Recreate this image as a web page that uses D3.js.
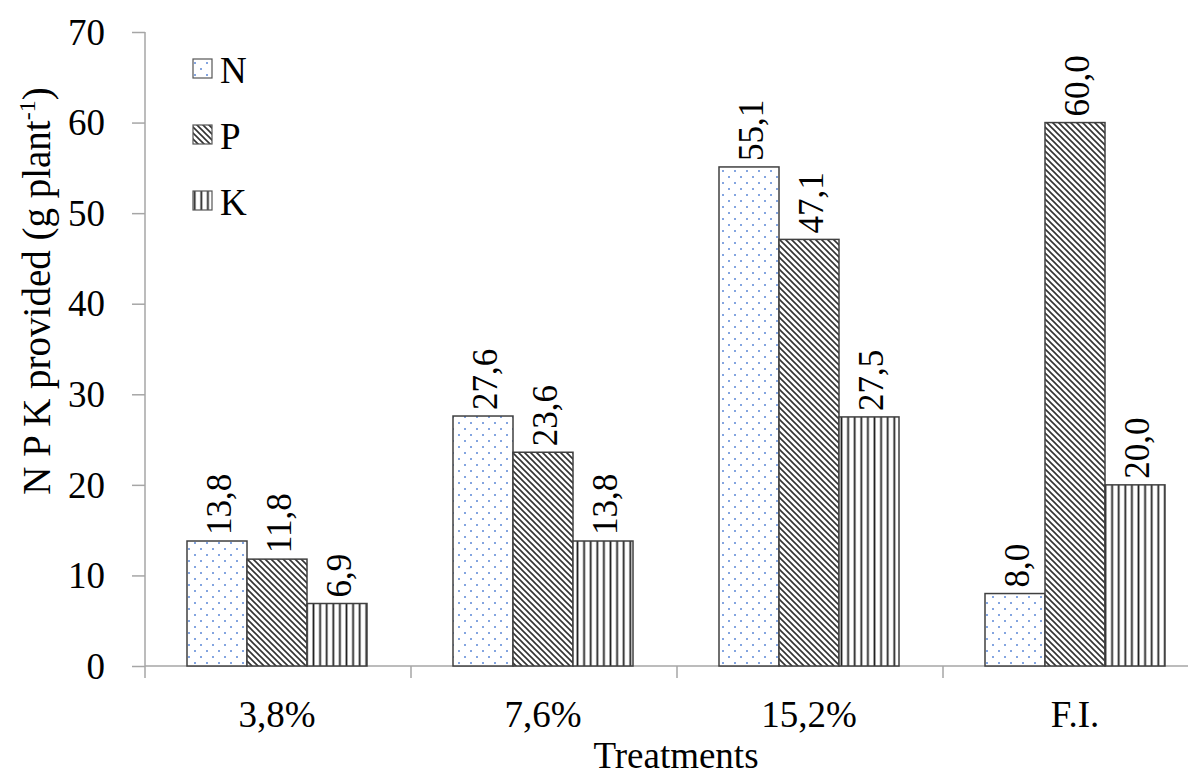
<!DOCTYPE html>
<html>
<head>
<meta charset="utf-8">
<script src="https://cdn.jsdelivr.net/npm/d3@7"></script>
<style>
  body { margin: 0; background: #fff; }
  text { font-family: "Liberation Serif", "Times New Roman", serif; fill: #000; }
</style>
</head>
<body>
<svg width="1188" height="779"></svg>
<script>
const treatments = ["3,8%", "7,6%", "15,2%", "F.I."];
const nutrients = ["N", "P", "K"];
const valuesN = [13.8, 27.6, 55.1, 8.0];
const valuesP = [11.8, 23.6, 47.1, 60.0];
const valuesK = [6.9, 13.8, 27.5, 20.0];
const yTicks = [0, 10, 20, 30, 40, 50, 60, 70];

const svg = d3.select("svg");
const margin = { top: 32, left: 145 };
const bandW = 266;
const height = 634;

const series = { N: valuesN, P: valuesP, K: valuesK };
const rows = [];
treatments.forEach((t, i) => {
    nutrients.forEach(n => rows.push({ t: t, n: n, v: series[n][i] }));
});

// patterns
const defs = svg.append("defs");
const pN = defs.append("pattern").attr("id", "pat-N").attr("patternUnits", "userSpaceOnUse")
    .attr("width", 12).attr("height", 12);
pN.append("rect").attr("width", 12).attr("height", 12).attr("fill", "#fff");
pN.append("circle").attr("cx", 3).attr("cy", 3).attr("r", 1).attr("fill", "#5b87d6");
pN.append("circle").attr("cx", 9).attr("cy", 9).attr("r", 1).attr("fill", "#5b87d6");

const pP = defs.append("pattern").attr("id", "pat-P").attr("patternUnits", "userSpaceOnUse")
    .attr("width", 6).attr("height", 6);
pP.append("rect").attr("width", 6).attr("height", 6).attr("fill", "#fff");
pP.append("path").attr("d", "M-1,-1 L7,7 M-4,2 L2,8 M4,-2 L8,2")
    .attr("stroke", "#333").attr("stroke-width", 1.6);

const pK = defs.append("pattern").attr("id", "pat-K").attr("patternUnits", "userSpaceOnUse")
    .attr("width", 6.6).attr("height", 10);
pK.append("rect").attr("width", 6.6).attr("height", 10).attr("fill", "#fff");
pK.append("line").attr("x1", 3.3).attr("x2", 3.3).attr("y1", 0).attr("y2", 10)
    .attr("stroke", "#222").attr("stroke-width", 1.8);

const x = d3.scaleBand().domain(treatments).range([margin.left, margin.left + bandW * 4]);
const xInner = d3.scaleBand().domain(nutrients).range([42, bandW - 44]);
const y = d3.scaleLinear().domain([0, 70]).range([margin.top + height, margin.top]);

// axes
const yAxis = svg.append("g").attr("transform", `translate(${margin.left},0)`)
    .call(d3.axisLeft(y).tickValues(yTicks).tickSize(13).tickPadding(27).tickSizeOuter(0));
yAxis.select(".domain").attr("stroke", "#a6a6a6").attr("stroke-width", 1.5)
    .attr("d", `M0,${y(70)}V${y(0) + 12}`);
yAxis.selectAll(".tick line").attr("stroke", "#a6a6a6").attr("stroke-width", 1.5);
yAxis.selectAll(".tick text").style("font-size", "37px").attr("dy", "0.33em");

const xAxis = svg.append("g").attr("transform", `translate(0,${y(0)})`);
xAxis.append("line").attr("x1", margin.left).attr("x2", 1188)
    .attr("stroke", "#a6a6a6").attr("stroke-width", 1.5);
xAxis.selectAll(".sep").data(treatments.slice(1)).enter().append("line")
    .attr("x1", d => x(d)).attr("x2", d => x(d)).attr("y1", 0).attr("y2", 12)
    .attr("stroke", "#a6a6a6").attr("stroke-width", 1.5);
xAxis.selectAll(".lbl").data(treatments).enter().append("text")
    .attr("x", d => x(d) + x.bandwidth() / 2 - 1).attr("y", 61)
    .attr("text-anchor", "middle").style("font-size", "37px").text(d => d);

// bars
svg.selectAll(".bar").data(rows).enter().append("rect")
    .attr("class", "bar")
    .attr("x", d => x(d.t) + xInner(d.n))
    .attr("y", d => y(d.v))
    .attr("width", xInner.bandwidth())
    .attr("height", d => y(0) - y(d.v))
    .attr("fill", d => `url(#pat-${d.n})`)
    .attr("stroke", "#404040").attr("stroke-width", 1.5);

// value labels
svg.selectAll(".val").data(rows).enter().append("text")
    .attr("transform", d => `translate(${x(d.t) + xInner(d.n) + xInner.bandwidth() / 2 + 14},${y(d.v) - 6}) rotate(-90)`)
    .style("font-size", "35px")
    .text(d => d3.format(".1f")(d.v).replace(".", ","));

// legend
const legend = svg.append("g");
nutrients.forEach((n, i) => {
    const ly = 59 + i * 66;
    legend.append("rect").attr("x", 193).attr("y", ly).attr("width", 19).attr("height", 19)
        .attr("fill", `url(#pat-${n})`).attr("stroke", "#555").attr("stroke-width", 1.2);
    legend.append("text").attr("x", 220).attr("y", ly + 24).style("font-size", "37px").text(n);
});

// axis titles
const yt = svg.append("text").attr("transform", `translate(50,291) rotate(-90)`)
    .attr("text-anchor", "middle").style("font-size", "39px");
yt.append("tspan").text("N P K provided (g plant");
yt.append("tspan").attr("dy", -15).style("font-size", "24px").text("-1");
yt.append("tspan").attr("dy", 15).text(")");

svg.append("text").attr("x", 676).attr("y", 768).attr("text-anchor", "middle")
    .style("font-size", "37px").text("Treatments");
</script>
</body>
</html>
